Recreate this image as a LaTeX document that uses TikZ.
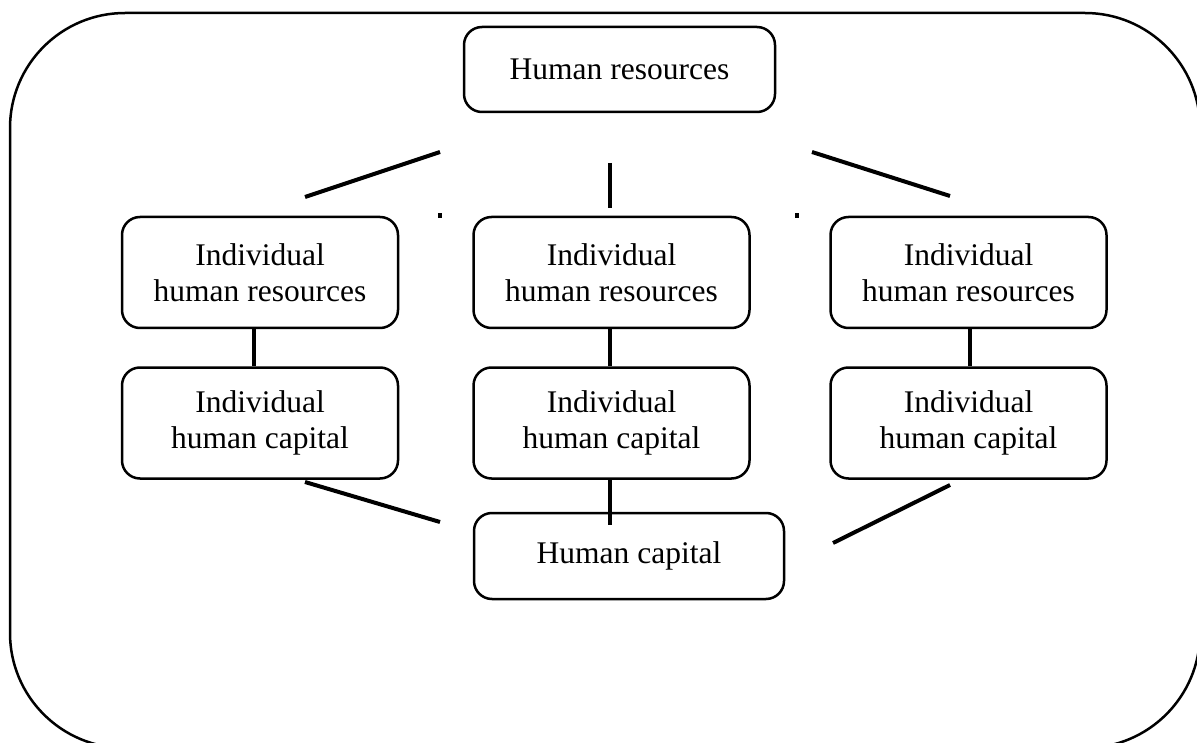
\documentclass[tikz,border=0pt]{standalone}
\usepackage{fontspec}
\setmainfont{Liberation Serif}
\tikzset{
  box/.style={draw, line width=2.5pt, rounded corners=18pt, align=center,
    font=\fontsize{31.5}{36}\selectfont, inner sep=0pt},
  link/.style={line width=4pt}
}
\begin{document}
\begin{tikzpicture}[x=1pt, y=-1pt]
      \useasboundingbox (0, 0) rectangle (1197, 743);
      \draw [line width=2.5pt, rounded corners=115pt] (10, 13) rectangle (1200, 748);
      \node [box, minimum width=311pt, minimum height=85pt] (hr) at (619.5, 69.5) {Human resources};
      \node [box, minimum width=276pt, minimum height=111pt] (ihrL) at (260, 272.5) {Individual\\human resources};
      \node [box, minimum width=276pt, minimum height=111pt] (ihrC) at (611.5, 272.5) {Individual\\human resources};
      \node [box, minimum width=276pt, minimum height=111pt] (ihrR) at (968.5, 272.5) {Individual\\human resources};
      \node [box, minimum width=276pt, minimum height=111pt] (ihcL) at (260, 423) {Individual\\human capital};
      \node [box, minimum width=276pt, minimum height=111pt] (ihcC) at (611.5, 423) {Individual\\human capital};
      \node [box, minimum width=276pt, minimum height=111pt] (ihcR) at (968.5, 423) {Individual\\human capital};
      \node [box, minimum width=310pt, minimum height=86pt] (hc) at (629, 556) {Human capital};
      % loose strokes between the rows
      \coordinate (tl1) at (305, 197); \coordinate (tl2) at (440, 152);
      \coordinate (tc1) at (610, 163); \coordinate (tc2) at (610, 208);
      \coordinate (tr1) at (812, 152); \coordinate (tr2) at (950, 196);
      \coordinate (bl1) at (305, 482); \coordinate (bl2) at (440, 522);
      \coordinate (br1) at (950, 485); \coordinate (br2) at (833, 543);
      \coordinate (hcTick) at (609.5, 525);
      \draw [link] (tl1) -- (tl2);
      \draw [link] (tc1) -- (tc2);
      \draw [link] (tr1) -- (tr2);
      \draw [link] ([xshift=-6pt]ihrL.south) -- ([xshift=-6pt]ihcL.north);
      \draw [link] ([xshift=-2pt]ihrC.south) -- ([xshift=-2pt]ihcC.north);
      \draw [link] ([xshift=1pt]ihrR.south) -- ([xshift=1pt]ihcR.north);
      \draw [link] ([xshift=-2pt]ihcC.south) -- (hcTick);
      \draw [link] (bl1) -- (bl2);
      \draw [link] (br1) -- (br2);
      \fill (438, 213) rectangle (442, 218);
      \fill (795, 213) rectangle (799, 218);
    \end{tikzpicture}
\end{document}
